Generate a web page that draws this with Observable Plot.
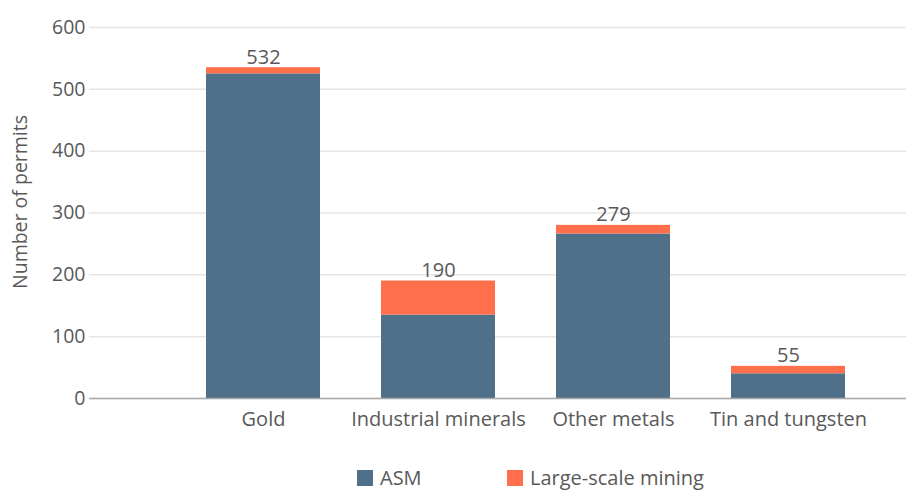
<!DOCTYPE html>
<html>
<head>
<meta charset="utf-8">
<script src="https://cdn.jsdelivr.net/npm/d3@7"></script>
<script src="https://cdn.jsdelivr.net/npm/@observablehq/plot@0.6"></script>
<style>
  html, body { margin: 0; padding: 0; background: #fff; }
  body { width: 906px; height: 491px; overflow: hidden; font-family: "Open Sans", sans-serif; color: #595959; }
  #legend { position: relative; height: 36px; font-size: 20px; line-height: 18px; }
  .item { position: absolute; top: 14px; display: flex; align-items: center; white-space: nowrap; }
  .sw { width: 16px; height: 16px; margin-right: 7px; }
</style>
</head>
<body>
<div id="chart"></div>
<div id="legend"></div>
<script>
const categories = ["Gold", "Industrial minerals", "Other metals", "Tin and tungsten"];
const seriesNames = ["ASM", "Large-scale mining"];
const seriesColors = ["#50708a", "#ff6f4b"];
const asmValues = [525, 135, 266, 40];
const largeScaleValues = [10, 55, 14, 12];
const totalLabels = [532, 190, 279, 55];
const yTicks = [0, 100, 200, 300, 400, 500, 600];
const yTitle = "Number of permits";

const data = [];
categories.forEach((c, i) => {
  data.push({category: c, series: seriesNames[0], value: asmValues[i]});
  data.push({category: c, series: seriesNames[1], value: largeScaleValues[i]});
});
const labels = categories.map((c, i) => ({category: c, top: asmValues[i] + largeScaleValues[i], text: String(totalLabels[i])}));

const chart = Plot.plot({
  width: 906,
  height: 455,
  marginTop: 27,
  marginBottom: 57,
  marginLeft: 89,
  marginRight: 0,
  style: {fontFamily: "'Open Sans', sans-serif", fontSize: "19.5px", color: "#595959", background: "#fff"},
  x: {type: "band", domain: categories, paddingInner: 0.35, paddingOuter: 0.505, align: 0.655, label: null},
  y: {domain: [0, 600], ticks: yTicks, label: null},
  color: {domain: seriesNames, range: seriesColors},
  marks: [
    Plot.gridY(yTicks, {stroke: "#e6e6e6", strokeOpacity: 1, strokeWidth: 1.5}),
    Plot.barY(data, {x: "category", y: "value", fill: "series", order: seriesNames}),
    Plot.ruleY([0], {stroke: "#a8a8a8", strokeWidth: 1.5}),
    Plot.text(labels, {x: "category", y: "top", text: "text", dy: -4, lineAnchor: "bottom", fontSize: 20, fill: "#595959"}),
    Plot.axisY(yTicks, {tickSize: 0, tickPadding: 4, label: null}),
    Plot.axisX({tickSize: 0, tickPadding: 13, fontSize: 20, label: null}),
    Plot.text([yTitle], {frameAnchor: "left", textAnchor: "middle", rotate: -90, dx: -69, dy: -11, fontSize: 19.5, fill: "#595959"})
  ]
});
document.getElementById("chart").appendChild(chart);

const legend = document.getElementById("legend");
const legendLeft = [357, 507];
seriesNames.forEach((name, i) => {
  const item = document.createElement("div");
  item.className = "item";
  item.style.left = legendLeft[i] + "px";
  const sw = document.createElement("div");
  sw.className = "sw";
  sw.style.background = seriesColors[i];
  const t = document.createElement("span");
  t.textContent = name;
  item.appendChild(sw);
  item.appendChild(t);
  legend.appendChild(item);
});
</script>
</body>
</html>
